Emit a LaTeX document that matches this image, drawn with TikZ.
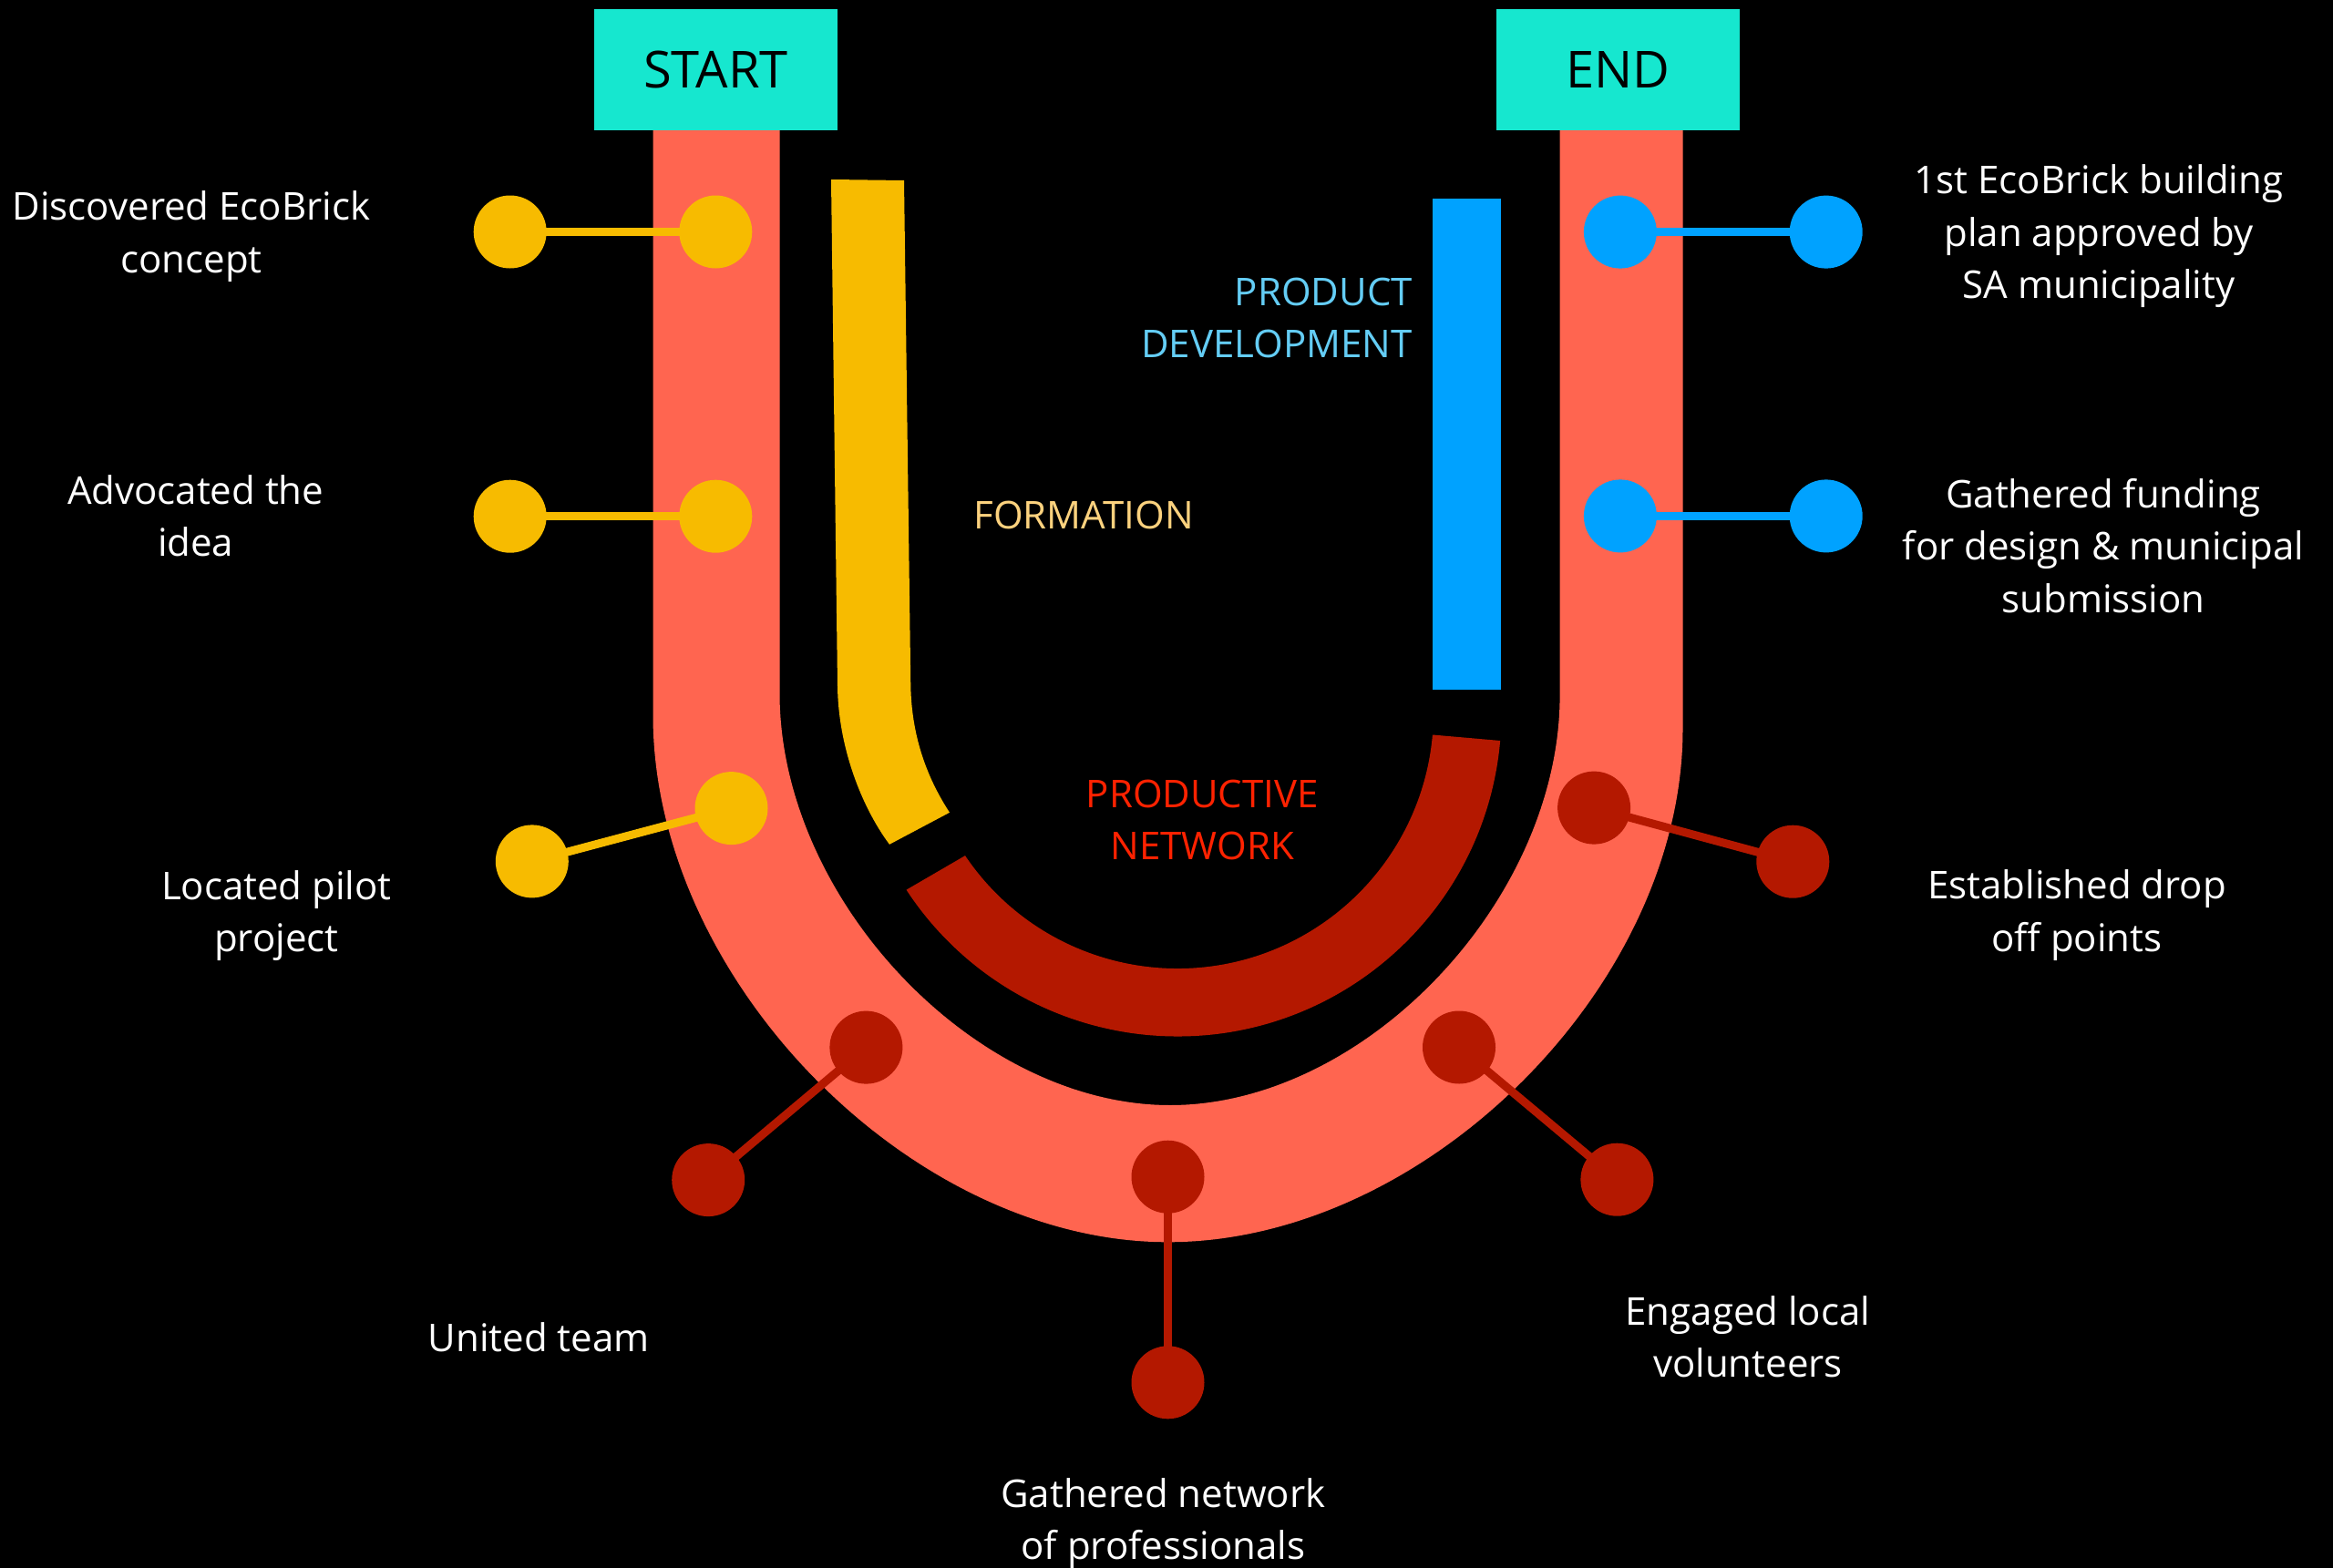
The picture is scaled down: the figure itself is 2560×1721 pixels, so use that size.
\documentclass[tikz,border=0pt]{standalone}
\usepackage{fontspec}
\setmainfont{Open Sans}
\usetikzlibrary{calc}
\definecolor{cteal}{HTML}{16E7CF}
\definecolor{csalmon}{HTML}{FF6550}
\definecolor{cyellow}{HTML}{F7BB00}
\definecolor{cblue}{HTML}{00A2FF}
\definecolor{cdred}{HTML}{B41800}
\definecolor{tblue}{HTML}{64CDF5}
\definecolor{tyellow}{HTML}{FCD27E}
\definecolor{tred}{HTML}{FF2200}
\newcommand\lblfont{\fontsize{42}{57.5}\selectfont}
\newcommand\ml[2][c]{\begin{tabular}[t]{@{}#1@{}}#2\end{tabular}}
\begin{document}
\begin{tikzpicture}[x=1pt,y=1pt,yscale=-1,
  dot/.style={circle,fill=#1,minimum size=80pt,inner sep=0pt,outer sep=0pt},
  link/.style={draw=#1,line width=9pt,shorten <=-1pt,shorten >=-1pt},
  lbl/.style={text=white,font=\lblfont,anchor=base,inner sep=0pt},
  phase/.style={text=#1,font=\lblfont,anchor=base,inner sep=0pt},
  endbox/.style={fill=cteal,minimum width=267.5pt,minimum height=133pt,inner sep=0pt,font=\fontsize{56}{60}\selectfont,text=black}]
\fill[black] (0,0) rectangle (2560,1721);
\useasboundingbox (0,0) rectangle (2560,1721);
% U track
\fill[csalmon] (716.5,140) -- (716.5,785) .. controls (716.5,1074) and (999,1363.3) .. (1281.5,1363.3)
  .. controls (1564,1363.3) and (1846.5,1081.7) .. (1846.5,800) -- (1846.5,140) -- (1711.6,140) -- (1711.6,763)
  .. controls (1711.6,988) and (1497.8,1213) .. (1284,1213)
  .. controls (1069.8,1213) and (855.5,987) .. (855.5,761) -- (855.5,140) -- cycle;
% formation bar
\fill[cyellow] (912,197) -- (992,198) -- (999.3,753.6) .. controls (1000.5,810) and (1018,855) .. (1042,891.8)
  -- (976,926.8) .. controls (945,885) and (920,820) .. (919,753.6) -- cycle;
% product development bar
\fill[cblue] (1572,218) rectangle (1647,757);
% productive network arc
\coordinate (rc) at (1292,782);
\fill[cdred] ($(rc)+(5:355.5)$) arc[start angle=5,end angle=146.8,radius=355.5]
  -- ($(rc)+(146:281)$) arc[start angle=146,end angle=5,radius=281] -- cycle;
% start / end
\node[endbox] (start) at (785.5,76.4) {START};
\node[endbox] (end) at (1775.5,76.4) {END};
% dots
\node[dot=cyellow] (a1) at (559.7,254.5) {};
\node[dot=cyellow] (a2) at (785.3,254.5) {};
\node[dot=cyellow] (b1) at (559.7,566.7) {};
\node[dot=cyellow] (b2) at (785.3,566.7) {};
\node[dot=cyellow] (c1) at (583.8,945.4) {};
\node[dot=cyellow] (c2) at (802.5,887.1) {};
\node[dot=cblue] (d1) at (1777.9,254.6) {};
\node[dot=cblue] (d2) at (2003.7,254.6) {};
\node[dot=cblue] (e1) at (1777.9,566.4) {};
\node[dot=cblue] (e2) at (2003.7,566.4) {};
\node[dot=cdred] (f1) at (1749.1,886.6) {};
\node[dot=cdred] (f2) at (1967.3,945.7) {};
\node[dot=cdred] (g1) at (1601,1149.5) {};
\node[dot=cdred] (g2) at (1774.4,1294.7) {};
\node[dot=cdred] (h1) at (1281.5,1291.7) {};
\node[dot=cdred] (h2) at (1281.5,1517.3) {};
\node[dot=cdred] (i1) at (950.4,1149.6) {};
\node[dot=cdred] (i2) at (777.2,1295.1) {};
% connectors
\draw[link=cyellow] (a1) -- (a2);
\draw[link=cyellow] (b1) -- (b2);
\draw[link=cyellow] (c1) -- (c2);
\draw[link=cblue] (d1) -- (d2);
\draw[link=cblue] (e1) -- (e2);
\draw[link=cdred] (f1) -- (f2);
\draw[link=cdred] (g1) -- (g2);
\draw[link=cdred] (h1) -- (h2);
\draw[link=cdred] (i1) -- (i2);
% labels
\node[lbl] (ta) at (210,241.7) {\ml{Discovered EcoBrick\\concept}};
\node[lbl] (tb) at (214.7,553) {\ml{Advocated the\\idea}};
\node[lbl] (tc) at (303.4,987) {\ml{Located pilot\\project}};
\node[lbl] (ti) at (591.3,1483.6) {United team};
\node[lbl] (th) at (1276.4,1654) {\ml{Gathered network\\of professionals}};
\node[lbl] (tg) at (1917.9,1454.3) {\ml{Engaged local\\volunteers}};
\node[lbl] (tf) at (2279,986.5) {\ml{Established drop\\off points}};
\node[lbl] (te) at (2308,557) {\ml{Gathered funding\\for design \& municipal\\submission}};
\node[lbl] (td) at (2303,212.5) {\ml{1st EcoBrick building\\plan approved by\\SA municipality}};
\node[phase=tblue,anchor=base east] (pd) at (1550,335) {\ml[r]{PRODUCT\\DEVELOPMENT}};
\node[phase=tyellow] (pf) at (1189,580.3) {FORMATION};
\node[phase=tred] (pn) at (1319.3,886) {\ml{PRODUCTIVE\\NETWORK}};
\end{tikzpicture}
\end{document}
